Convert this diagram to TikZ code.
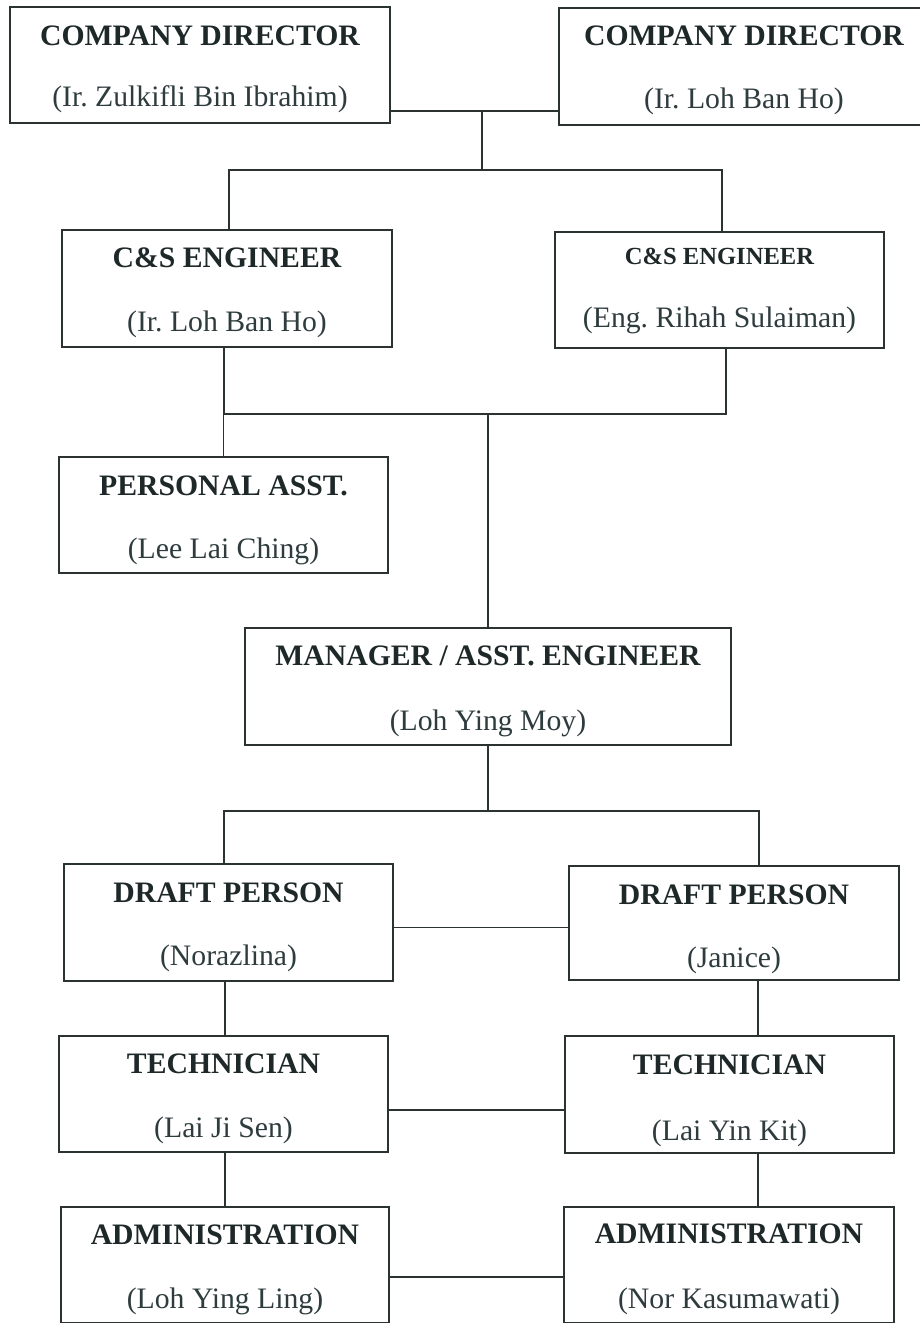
\documentclass[tikz,border=0pt]{standalone}
\usepackage{fontspec}
\setmainfont{Liberation Serif}
\frenchspacing
\definecolor{ink}{HTML}{1E2828}
\definecolor{nameink}{HTML}{2F3C3E}
\definecolor{linec}{HTML}{2A3232}
\tikzset{
  orgbox/.style={draw=linec, line width=1.8pt, rectangle, inner sep=0pt, outer sep=0pt},
  ttl/.style={font=\fontsize{29.7}{30}\selectfont\bfseries, text=ink, inner sep=0pt, anchor=base},
  who/.style={font=\fontsize{29.7}{30}\selectfont, text=nameink, inner sep=0pt, anchor=base},
  link/.style={draw=linec, line width=1.7pt}
}
\newcommand\orgunit[9]{%
  \node[orgbox, minimum width={#4pt-#2pt}, minimum height={#5pt-#3pt}] (#1) at ({(#2+#4)/2},{(#3+#5)/2}) {};
  \node[ttl] (#1-t) at ({(#2+#4)/2},#6) {#8};
  \node[who] (#1-n) at ({(#2+#4)/2},#7) {#9};
}
\begin{document}
\begin{tikzpicture}[x=1pt,y=-1pt]
\useasboundingbox (0,0) rectangle (920,1324);
\fill[white] (0,0) rectangle (920,1324);
\clip (0,0) rectangle (920,1324);

\orgunit{dir1}{10}{7}{390}{123}{46}{107}{COMPANY DIRECTOR}{(Ir. Zulkifli Bin Ibrahim)}
\orgunit{dir2}{559}{8}{929}{125}{46}{109}{COMPANY DIRECTOR}{(Ir. Loh Ban Ho)}
\orgunit{cs1}{62}{230}{392}{347}{268}{331}{C\&S ENGINEER}{(Ir. Loh Ban Ho)}
\orgunit{cs2}{555}{232}{884}{348}{264}{327}{{\fontsize{24.6}{25}\selectfont C\&S ENGINEER}}{(Eng. Rihah Sulaiman)}
\orgunit{pa}{59}{457}{388}{573}{495}{558}{PERSONAL ASST.}{(Lee Lai Ching)}
\orgunit{mgr}{245}{628}{731}{745}{665}{730}{MANAGER / ASST. ENGINEER}{(Loh Ying Moy)}
\orgunit{d1}{64}{864}{393}{981}{902}{965}{DRAFT PERSON}{(Norazlina)}
\orgunit{d2}{569}{866}{899}{980}{904}{967}{DRAFT PERSON}{(Janice)}
\orgunit{t1}{59}{1036}{388}{1152}{1073}{1137}{TECHNICIAN}{(Lai Ji Sen)}
\orgunit{t2}{565}{1036}{894}{1153}{1074}{1140}{TECHNICIAN}{(Lai Yin Kit)}
\orgunit{a1}{61}{1207}{389}{1322.5}{1244}{1308}{ADMINISTRATION}{(Loh Ying Ling)}
\orgunit{a2}{564}{1207}{894}{1322.5}{1243}{1308}{ADMINISTRATION}{(Nor Kasumawati)}

\coordinate (j1) at (482,111);
\coordinate (j2) at (482,170);
\draw[link] (dir1.east |- j1) -- (dir2.west |- j1);
\draw[link] (j1) -- (j2);
\draw[link] ([xshift=2pt]cs1.north) |- (j2) -| ([xshift=2.5pt]cs2.north);

\coordinate (j3) at (488,414);
\draw[link] ([xshift=-3pt]cs1.south) |- (j3) -| ([xshift=6.5pt]cs2.south);
\draw[link] (pa.north) -- (pa.north |- j3);
\draw[link] (j3) -- (mgr.north);

\coordinate (j4) at (488,811);
\draw[link] (mgr.south) -- (j4);
\draw[link] ([xshift=-4.5pt]d1.north) |- (j4) -| ([xshift=25pt]d2.north);

\coordinate (h1) at (480,927.5);
\draw[link] (d1.east |- h1) -- (d2.west |- h1);
\coordinate (cl) at (225,0);
\coordinate (cr) at (758,0);
\draw[link] (d1.south -| cl) -- (t1.north -| cl);
\draw[link] (d2.south -| cr) -- (t2.north -| cr);

\coordinate (h2) at (480,1110);
\draw[link] (t1.east |- h2) -- (t2.west |- h2);
\draw[link] (t1.south -| cl) -- (a1.north -| cl);
\draw[link] (t2.south -| cr) -- (a2.north -| cr);

\coordinate (h3) at (480,1277);
\draw[link] (a1.east |- h3) -- (a2.west |- h3);
\end{tikzpicture}
\end{document}
